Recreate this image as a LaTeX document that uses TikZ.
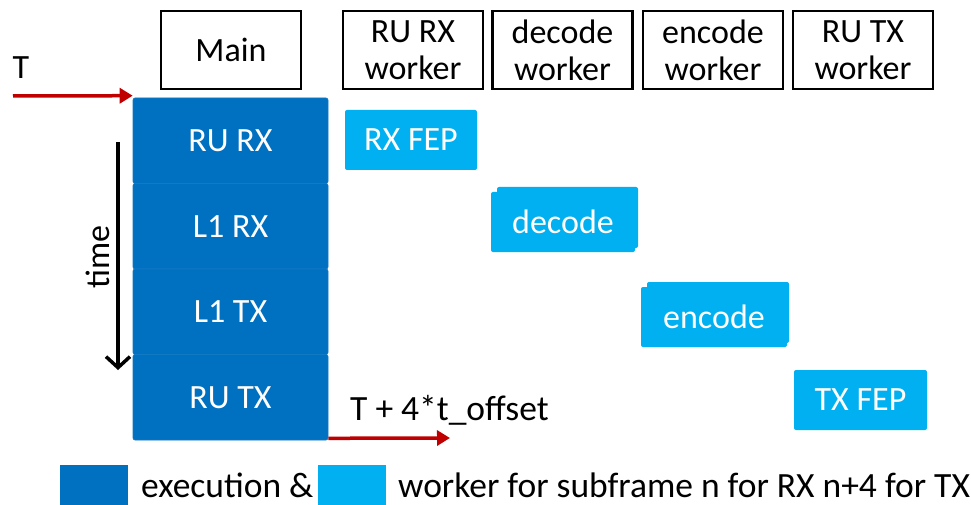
\documentclass[tikz,border=0pt]{standalone}
\usepackage{fontspec}
\setmainfont{Carlito}
\usetikzlibrary{arrows.meta}
\definecolor{dblue}{HTML}{0070C0}
\definecolor{lblue}{HTML}{00B0F0}
\definecolor{dred}{HTML}{C00000}
\tikzset{
  txt/.style={font=\fontsize{34}{37}\selectfont, inner sep=0pt},
  bigtxt/.style={font=\fontsize{35.5}{38}\selectfont, inner sep=0pt},
  hdr/.style={txt, draw=black, line width=2.5pt, minimum width=140pt, minimum height=78pt, align=center},
  mainrow/.style={txt, fill=dblue, draw=dblue!93!white, line width=0.6pt, rounded corners=2pt, text=white, minimum width=195pt, minimum height=85.5pt},
  work/.style={txt, fill=lblue, rounded corners=2pt, text=white, minimum height=60pt},
  redarrow/.style={draw=dred, line width=3.5pt, -{Triangle[length=13pt,width=15pt]}},
  legbox/.style={fill, minimum width=68pt, minimum height=40pt, inner sep=0pt}
}
\begin{document}
\begin{tikzpicture}[x=1pt,y=-1pt]
\useasboundingbox (0,0) rectangle (971,505);
% headers
\node[hdr] (hmain) at (231,50) {Main};
\node[hdr] (hrurx) at (413,50) {RU RX\\worker};
\node[hdr] (hdec) at (562.5,50) {decode\\worker};
\node[hdr] (henc) at (713,50) {encode\\worker};
\node[hdr] (hrutx) at (863,50) {RU TX\\worker};
% main column
\node[mainrow] (rurx) at (230.5,140.75) {RU RX};
\node[mainrow] (l1rx) at (230.5,226.25) {L1 RX};
\node[mainrow] (l1tx) at (230.5,311.75) {L1 TX};
\node[mainrow] (rutx) at (230.5,397.25) {RU TX};
% workers
\node[work, minimum width=132pt] (rxfep) at (411,140) {RX FEP};
\node[work, minimum width=141pt, minimum height=61pt] (decback) at (567.5,217.5) {};
\node[work, minimum width=144pt] (dec) at (563,222) {decode};
\node[work, minimum width=142pt, minimum height=61pt] (encback) at (718,312.5) {};
\node[work, minimum width=146pt] (enc) at (714,317) {encode};
\node[work, minimum width=133pt] (txfep) at (860.5,400) {TX FEP};
% T arrow
\node[txt, anchor=center] (tlabel) at (21,68) {T};
\coordinate (tstart) at (13,96);
\coordinate (tend) at ([yshift=2pt]rurx.north west);
\draw[redarrow] (tstart) -- (tend);
% bottom arrow
\coordinate (bstart) at ([yshift=2pt]rutx.south east);
\coordinate (bend) at (450,438);
\draw[redarrow] (bstart) -- (bend);
\node[bigtxt, anchor=west] (toff) at (350,410) {T + 4*t\_offset};
% time arrow
\coordinate (ta) at (118,142);
\coordinate (tb) at (118,370);
\draw[line width=3.5pt, -{Straight Barb[length=11pt,width=24pt]}] (ta) -- (tb);
\node[txt, rotate=90] (timelbl) at (98,257) {time};
% legend
\node[legbox, dblue] (lg1) at (94,485) {};
\node[bigtxt, anchor=west] (lg1t) at (141,485) {execution \&};
\node[legbox, lblue] (lg2) at (352,485) {};
\node[bigtxt, anchor=west] (lg2t) at (398,485) {worker for subframe n for RX n+4 for TX};
\end{tikzpicture}
\end{document}
